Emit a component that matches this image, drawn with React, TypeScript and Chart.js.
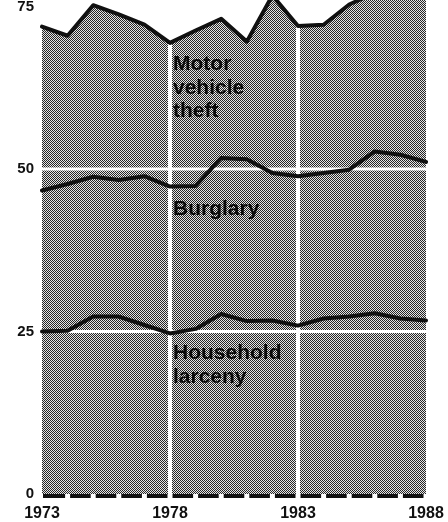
import React, { useEffect, useRef } from "react";
import { Chart, registerables } from "chart.js";

Chart.register(...registerables);

// Years on the horizontal axis
const years = [
  "1973", "1974", "1975", "1976", "1977", "1978", "1979", "1980",
  "1981", "1982", "1983", "1984", "1985", "1986", "1987", "1988",
];
const xTickLabels = ["1973", "1978", "1983", "1988"];
const yTickValues = [0, 25, 50, 75];
const gridYears = ["1978", "1983"];
const gridValues = [25, 50];
const yMax = 76;

// Top edge of each stacked band (cumulative)
const householdLarcenyTop = [
  25.0, 25.1, 27.3, 27.3, 26.0, 24.7, 25.4, 27.7,
  26.6, 26.7, 25.9, 27.0, 27.3, 27.8, 27.0, 26.7,
];
const burglaryTop = [
  46.7, 47.7, 48.8, 48.3, 48.9, 47.3, 47.4, 51.7,
  51.5, 49.4, 48.9, 49.4, 49.9, 52.7, 52.2, 51.1,
];
const motorVehicleTheftTop = [
  71.9, 70.5, 75.2, 73.8, 72.2, 69.4, 71.3, 73.1,
  69.6, 76.7, 72.0, 72.2, 75.3, 77.1, 78.3, 77.3,
];

// In-chart band labels (text lines and the value of the first baseline)
const bandLabelLines = [["Motor", "vehicle", "theft"], ["Burglary"], ["Household", "larceny"]];
const bandLabelValues = [65.2, 43.0, 20.7];
const bandLabelYear = "1978";

function makePattern(ctx: CanvasRenderingContext2D) {
  const c = document.createElement("canvas");
  c.width = 2;
  c.height = 2;
  const g = c.getContext("2d")!;
  g.fillStyle = "#e4e4e4";
  g.fillRect(0, 0, 2, 2);
  g.fillStyle = "#262626";
  g.fillRect(0, 0, 1, 1);
  g.fillRect(1, 1, 1, 1);
  return ctx.createPattern(c, "repeat")!;
}

const whiteGridPlugin = {
  id: "whiteGrid",
  afterDatasetDraw(chart: any, args: any) {
    if (args.index !== 0) return;
    const { ctx, chartArea, scales } = chart;
    const xs = scales.x;
    const ys = scales.y;
    ctx.save();
    ctx.strokeStyle = "#ffffff";
    ctx.lineWidth = 3;
    gridValues.forEach((v) => {
      const y = ys.getPixelForValue(v);
      ctx.beginPath();
      ctx.moveTo(chartArea.left, y);
      ctx.lineTo(chartArea.right, y);
      ctx.stroke();
    });
    ctx.lineWidth = 4;
    gridYears.forEach((yr) => {
      const x = xs.getPixelForValue(years.indexOf(yr));
      ctx.beginPath();
      ctx.moveTo(x, chartArea.top);
      ctx.lineTo(x, chartArea.bottom + 4);
      ctx.stroke();
    });
    ctx.restore();
  },
};

// Dashed baseline: one black segment per year interval, gaps at the years
const baselinePlugin = {
  id: "dashedBaseline",
  afterDatasetsDraw(chart: any) {
    const { ctx, chartArea, scales } = chart;
    const xs = scales.x;
    const y = chartArea.bottom + 2;
    ctx.save();
    ctx.strokeStyle = "#111111";
    ctx.lineWidth = 4;
    ctx.lineCap = "butt";
    for (let i = 0; i < years.length - 1; i++) {
      const a = xs.getPixelForValue(i);
      const b = xs.getPixelForValue(i + 1);
      ctx.beginPath();
      ctx.moveTo(a + (i === 0 ? 1 : 2.5), y);
      ctx.lineTo(b - 2.5, y);
      ctx.stroke();
    }
    ctx.restore();
  },
};

const bandLabelPlugin = {
  id: "bandLabels",
  afterDatasetsDraw(chart: any) {
    const { ctx, scales } = chart;
    const x = scales.x.getPixelForValue(years.indexOf(bandLabelYear)) + 3;
    ctx.save();
    ctx.font = 'bold 21px "Liberation Sans", Arial, sans-serif';
    ctx.fillStyle = "#0a0a0a";
    ctx.textAlign = "left";
    ctx.textBaseline = "alphabetic";
    bandLabelLines.forEach((lines, i) => {
      const y0 = scales.y.getPixelForValue(bandLabelValues[i]);
      lines.forEach((t, j) => ctx.fillText(t, x, y0 + j * 23.5));
    });
    ctx.restore();
  },
};

export default function App() {
  const ref = useRef<HTMLCanvasElement>(null);

  useEffect(() => {
    document.body.style.margin = "0";
    const canvas = ref.current!;
    const ctx = canvas.getContext("2d")!;
    const pattern = makePattern(ctx);

    const lineStyle = {
      borderColor: "#111111",
      borderWidth: 4,
      pointRadius: 0,
      tension: 0,
      fill: false,
      borderJoinStyle: "round" as const,
      borderCapStyle: "round" as const,
      order: 1,
    };

    const chart = new Chart(canvas, {
      type: "line",
      data: {
        labels: years,
        datasets: [
          {
            label: "area",
            data: motorVehicleTheftTop,
            backgroundColor: pattern,
            borderWidth: 0,
            pointRadius: 0,
            tension: 0,
            fill: "origin",
            order: 2,
          },
          { label: "Household larceny", data: householdLarcenyTop, ...lineStyle },
          { label: "Burglary", data: burglaryTop, ...lineStyle },
          { label: "Motor vehicle theft", data: motorVehicleTheftTop, ...lineStyle },
        ],
      },
      options: {
        responsive: false,
        maintainAspectRatio: false,
        animation: false,
        events: [],
        layout: { padding: { left: 0, right: 22, top: 0, bottom: 0 } },
        plugins: {
          legend: { display: false },
          tooltip: { enabled: false },
          title: { display: false },
        },
        scales: {
          x: {
            type: "category",
            offset: false,
            grid: { display: false, drawTicks: false },
            border: { display: false },
            ticks: {
              autoSkip: false,
              maxRotation: 0,
              padding: 10,
              color: "#111111",
              font: { family: '"Liberation Sans", Arial, sans-serif', size: 16, weight: "bold" },
              callback: (_v: any, i: number) => (xTickLabels.includes(years[i]) ? years[i] : ""),
            },
            afterFit: (s: any) => {
              s.height = 28;
              s.paddingLeft = 0;
              s.paddingRight = 0;
            },
          },
          y: {
            min: 0,
            max: yMax,
            grid: { display: false, drawTicks: false },
            border: { display: false },
            afterBuildTicks: (s: any) => {
              s.ticks = yTickValues.map((v) => ({ value: v }));
            },
            ticks: {
              padding: 8,
              color: "#111111",
              font: { family: '"Liberation Sans", Arial, sans-serif', size: 15, weight: "bold" },
            },
            afterFit: (s: any) => {
              s.width = 42;
              s.paddingTop = 0;
              s.paddingBottom = 0;
            },
          },
        },
      },
      plugins: [whiteGridPlugin, baselinePlugin, bandLabelPlugin],
    });

    return () => chart.destroy();
  }, []);

  return (
    <div style={{ width: 448, height: 522 }}>
      <canvas ref={ref} width={448} height={522} style={{ display: "block" }} />
    </div>
  );
}
